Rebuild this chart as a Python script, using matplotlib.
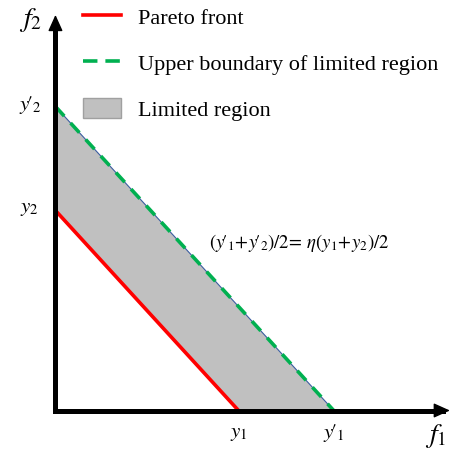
import matplotlib.pyplot as plt
from matplotlib.lines import Line2D
from matplotlib.patches import Patch

plt.rcParams['font.family'] = ['Liberation Serif', 'DejaVu Serif']
plt.rcParams['mathtext.fontset'] = 'stix'

# values of the sketch (data units)
y1 = 1.0
y2 = 1.0
eta = 1.52
y1p = eta * y1
y2p = eta * y2

tick_x = [y1, y1p]
tick_x_labels = [r"$y_1$", r"$y\!\prime_1$"]
tick_y = [y2p, y2]
tick_y_labels = [r"$y\!\prime_2$", r"$y_2$"]

legend_labels = ["Pareto front", "Upper boundary of limited region", "Limited region"]
equation = r"$(y\!\prime_1\!+\!y\!\prime_2)/2\!=\,\eta(y_1\!+\!y_2)/2$"

RED = "#ff0000"
GREEN = "#00b050"
GRAY = "#c0c0c0"

fig = plt.figure(figsize=(4.51, 4.50), dpi=100)
ax = fig.add_axes([0, 0, 1, 1])
ax.set_xlim(-0.303, 2.161)
ax.set_ylim(-0.1975, 2.0525)
ax.axis("off")

# limited region between the Pareto front and the upper boundary
ax.fill([0, 0, y1p, y1], [y2, y2p, 0, 0], facecolor=GRAY,
        edgecolor="#3a5da0", lw=0.8, zorder=1)
ax.plot([0, y1], [y2, 0], color=RED, lw=2.6, zorder=2)
ax.plot([0, y1p], [y2p, 0], color=GREEN, lw=2.6, dashes=(3.6, 2.6), zorder=3)

# axes with arrows
x_tip = 2.155
y_tip = 1.978
ax.plot([0, x_tip - 0.04], [0, 0], color="black", lw=3.6,
        solid_capstyle="projecting", zorder=5)
ax.plot([0, 0], [0, y_tip - 0.05], color="black", lw=3.6,
        solid_capstyle="projecting", zorder=5)
arrow = dict(arrowstyle="-|>,head_length=1.0,head_width=0.45", color="black",
             lw=1, shrinkA=0, shrinkB=0, mutation_scale=10)
ax.annotate("", xy=(x_tip, 0), xytext=(x_tip - 0.1, 0), arrowprops=arrow, zorder=6)
ax.annotate("", xy=(0, y_tip), xytext=(0, y_tip - 0.1), arrowprops=arrow, zorder=6)

# axis labels
ax.text(-0.135, 1.955, r"$f_2$", fontsize=20, ha="center", va="center")
ax.text(2.075, -0.125, r"$f_1$", fontsize=20, ha="center", va="center")

for x, lab in zip(tick_x, tick_x_labels):
    ax.text(x, -0.115, lab, fontsize=15, ha="center", va="center")
for y, lab in zip(tick_y, tick_y_labels):
    ax.text(-0.14, y + 0.01, lab, fontsize=15, ha="center", va="center")

ax.text(1.33, 0.84, equation, fontsize=13.5, ha="center", va="center")

handles = [
    Line2D([], [], color=RED, lw=2.6),
    Line2D([], [], color=GREEN, lw=2.6, dashes=(4.0, 2.2)),
    Patch(facecolor=GRAY, edgecolor="#a0a0a0", lw=1),
]
ax.legend(handles, legend_labels, loc="upper left", bbox_to_anchor=(0.164, 1.006),
          frameon=False, fontsize=16, handlelength=1.7, handleheight=1.0,
          handletextpad=0.76, labelspacing=1.05, borderaxespad=0)

fig.savefig("out.png", dpi=100)
